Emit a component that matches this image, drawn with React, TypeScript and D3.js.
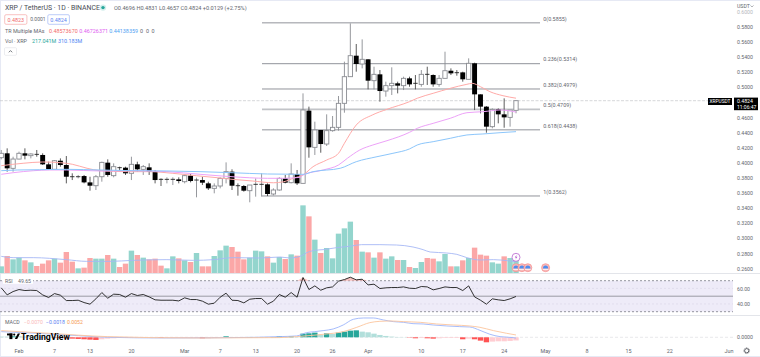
import React from 'react';
import * as d3 from 'd3';

const W = 760, H = 357;
const firstDay = -3;
const opens = [.4069,.4127,.3928,.4051,.4127,.4096,.4113,.4105,.3981,.3915,.4029,.3972,.3817,.3813,.3826,.3742,.3698,.3817,.4003,.3831,.3937,.3937,.3862,.3981,.3915,.3941,.3884,.3782,.3778,.3778,.3782,.3751,.3831,.3769,.3773,.3729,.3663,.3694,.3795,.3884,.3698,.3694,.3632,.3712,.3712,.3716,.3588,.3641,.3795,.3738,.3853,.3729,.4692,.4206,.4436,.4250,.4427,.4471,.4789,.5142,.5420,.5310,.5372,.5089,.5173,.4952,.5023,.5054,.5023,.5120,.5054,.5040,.5173,.5164,.5040,.5120,.5221,.5195,.5199,.5107,.5319,.4908,.4745,.4480,.4709,.4643,.4603,.4696];
const closes = [.4127,.3928,.4051,.4127,.4096,.4118,.4105,.3981,.3915,.4029,.3972,.3817,.3813,.3817,.3742,.3698,.3817,.4007,.3840,.3950,.3932,.3862,.3981,.3915,.3950,.3884,.3773,.3778,.3782,.3782,.3760,.3831,.3760,.3773,.3738,.3663,.3694,.3795,.3884,.3698,.3694,.3632,.3707,.3716,.3716,.3588,.3641,.3795,.3738,.3853,.3729,.4701,.4206,.4436,.4250,.4427,.4471,.4789,.5142,.5420,.5310,.5372,.5089,.5173,.4952,.5023,.5054,.5023,.5120,.5040,.5049,.5173,.5164,.5040,.5120,.5221,.5186,.5190,.5107,.5319,.4908,.4745,.4480,.4709,.4643,.4603,.4700,.4824];
const highs = [.4171,.4193,.4082,.4149,.4193,.4127,.4171,.4127,.4016,.4038,.4060,.4091,.3862,.3840,.3840,.3817,.3840,.4016,.4047,.3994,.3950,.3950,.4082,.4016,.3972,.3994,.3906,.3795,.3809,.3809,.3809,.3848,.3853,.3804,.3817,.3751,.3729,.3809,.4007,.3915,.3729,.3707,.3707,.3795,.3862,.3729,.3663,.3809,.3840,.3994,.3906,.4921,.4745,.4546,.4436,.4643,.4621,.4886,.5341,.5848,.5575,.5636,.5372,.5274,.5230,.5076,.5266,.5076,.5142,.5142,.5164,.5230,.5274,.5173,.5164,.5473,.5252,.5230,.5208,.5385,.5327,.4908,.4753,.4722,.4722,.4855,.4700,.4831];
const lows = [.4047,.3884,.3884,.4047,.4047,.4060,.4082,.3972,.3906,.3906,.3950,.3729,.3773,.3795,.3729,.3632,.3641,.3751,.3817,.3809,.3884,.3840,.3773,.3884,.3840,.3840,.3729,.3694,.3729,.3707,.3729,.3729,.3742,.3544,.3707,.3641,.3597,.3663,.3729,.3641,.3566,.3619,.3478,.3553,.3553,.3561,.3570,.3632,.3729,.3729,.3707,.3729,.4069,.4105,.4135,.4224,.4413,.4427,.4665,.5142,.5208,.5252,.4974,.4974,.4811,.4877,.4899,.4921,.4965,.5009,.4974,.5009,.5032,.5009,.5009,.5120,.5164,.5155,.5076,.5107,.4700,.4656,.4400,.4458,.4524,.4466,.4480,.4657];
const volumes = [133,340,273,307,253,213,140,187,253,287,207,420,227,93,107,300,287,287,360,287,120,187,447,360,307,273,287,147,93,333,293,253,220,400,133,133,340,453,547,520,427,273,307,447,433,333,207,320,280,373,347,1353,1133,667,400,500,293,787,893,1027,660,427,413,307,413,287,333,260,260,120,100,220,300,287,233,380,133,133,253,300,507,367,347,213,187,333,300,310];
const volumeDir = ['u','d','u','u','d','u','d','d','d','u','d','d','d','u','d','d','u','u','d','u','d','d','u','d','u','d','d','d','u','u','d','u','d','u','d','d','u','u','u','d','d','d','u','u','u','d','u','u','d','u','d','u','d','u','d','u','u','u','u','u','d','u','d','u','d','u','u','d','u','d','u','u','d','d','u','u','d','u','d','u','d','d','d','u','u','d','u','u'];

const maRedDays = [-3,.7,4,7,9,11.5,13.7,18.3,22,26,30,33.5,36,39.5,43,44.7,46.5,48,49.7,52,54,55,57,59.7,62.2,66,67.3,70,72.9,75.7,76.6,78,79.6,81.8,84];
const maRedValues = [.3963,.3995,.4012,.4003,.3982,.3929,.3897,.3884,.3884,.3862,.3830,.3804,.3783,.3760,.3737,.3750,.3800,.3840,.3950,.4038,.4127,.4260,.4502,.4634,.4710,.4811,.4856,.4922,.4988,.5041,.5054,.5009,.4943,.4890,.4857];
const maMagentaDays = [-3,-1,2.5,5.2,8,13.7,19.3,25,30.6,36,42,44.6,47.5,48,51.4,54,55.5,57.6,59.8,62.2,66,67.3,70,72.9,75.7,78.4,81.3,84];
const maMagentaValues = [.3849,.3870,.3897,.3906,.3906,.3893,.3897,.3884,.3849,.3817,.3796,.3796,.3809,.3840,.3906,.3972,.4061,.4171,.4237,.4294,.4405,.4458,.4524,.4591,.4665,.4678,.4701,.4673];
const maBlueDays = [-3,-.3,3.5,8,13.7,19.3,25,30.6,36,42,47.5,48,49.7,54.3,57,60.5,63.2,66,67.3,70,72.9,75.7,78.4,81.3,84];
const maBlueValues = [.3897,.3906,.3910,.3915,.3906,.3897,.3893,.3884,.3870,.3853,.3849,.3849,.3884,.3929,.4016,.4082,.4127,.4185,.4237,.4281,.4326,.4370,.4383,.4400,.4414];

const volMaDays = [-3,-1,2.4,8,11.4,15.4,19.3,25,29.5,32.9,36.2,40.7,44.1,45.8,47.5,48.9,50,51.4,53.7,56.2,57.9,61,63.8,66.6,68.3,69.5,72.3,74,75.7,77.9,80.2,83,84];
const volMaValues = [333,307,307,267,233,233,253,267,253,267,307,300,320,300,333,420,453,467,507,540,567,567,560,520,467,420,400,373,307,260,267,240,225];

const rsiValues = [60.8,51.7,56.0,58.6,57.3,57.7,57.3,51.7,48.3,53.4,51.3,44.4,44.4,44.8,41.8,39.7,46.6,54.7,47.4,52.6,52.2,48.7,53.4,50.9,52.2,49.1,45.3,44.8,44.8,44.8,43.9,47.9,45.7,45.7,43.6,39.7,41.0,48.7,53.9,44.8,44.4,41.4,46.1,47.0,47.0,39.7,43.6,52.2,48.7,54.7,48.7,74.1,58.6,63.3,57.7,60.8,62.0,69.4,71.5,74.5,71.1,71.9,64.6,65.5,59.9,60.8,61.2,61.2,62.0,60.3,59.9,62.5,62.0,58.2,59.9,62.0,61.2,61.2,57.3,63.3,49.1,44.8,39.7,46.6,45.3,44.4,46.6,49.65];

const macdDays = [-3,3,10,15,25,40,44,46.9,48.6,50,51.4,53.1,54.8,56.5,58.2,59.9,61.6,63.3,65,66.6,68.3,70,72.3,74.5,76.2,77.9,79.6,81.3,83.5,84];
const macdValues = [.0126,.0089,.0037,0,-.0015,0,.0015,.0030,.0104,.0126,.0148,.0185,.0274,.0400,.0429,.0429,.0385,.0348,.0333,.0303,.0296,.0274,.0252,.0237,.0229,.0155,.0067,.0015,-.0007,-.0018];
const signalDays = [-3,5,15,30,44,46.9,49.7,51.4,53.1,54.8,57.1,59.3,61,62.7,65,67.8,70.6,73.4,76.2,77.9,80.2,82.4,84];
const signalValues = [.0148,.0089,.0015,-.0015,-.0007,.0015,.0044,.0067,.0089,.0126,.0222,.0326,.0355,.0363,.0348,.0333,.0296,.0274,.0252,.0222,.0148,.0089,.0052];
const histValues = [.0015,.0015,.0022,.0022,.0015,.0015,.0007,.0007,0,-.0007,-.0015,-.0022,-.0030,-.0037,-.0044,-.0052,-.0059,-.0044,-.0030,-.0022,-.0015,-.0015,-.0007,-.0007,-.0007,-.0007,-.0007,-.0015,-.0015,-.0015,-.0015,-.0015,-.0015,-.0015,-.0022,-.0022,-.0015,-.0007,.0022,.0007,.0007,.0004,.0007,.0007,.0007,.0004,.0007,.0022,.0015,.0022,.0007,.0081,.0089,.0104,.0059,.0089,.0074,.0104,.0126,.0148,.0155,.0126,.0111,.0081,.0052,.0030,.0015,.0007,.0004,-.0007,-.0022,-.0015,-.0022,-.0030,-.0022,-.0015,-.0015,-.0015,-.0044,-.0030,-.0044,-.0074,-.0111,-.0096,-.0089,-.0089,-.0081,-.0070];

const fibPrices = [.5855,.5314,.4979,.4709,.4438,.3562];
const fibLabels = ['0(0.5855)','0.236(0.5314)','0.382(0.4979)','0.5(0.4709)','0.618(0.4438)','1(0.3562)'];
const priceTicks = [.58,.56,.54,.52,.50,.46,.44,.42,.40,.38,.36,.34,.32,.30,.28,.26];
const timeTickDays = [0,6,12,19,28,34,40,47,53,59,68,75,82,89,96,103,110,120];
const timeTickLabels = ['Feb','7','13','20','Mar','7','13','20','26','Apr','10','17','24','May','8','15','22','Jun'];
const earningsDays = [84,85,86,89];
const lastPrice = .4824;

const FONT = 'Roboto, sans-serif';
const GREY = '#63666e';
const UP_VOL = '#93d5cd', DOWN_VOL = '#fba7a7';

export default function App() {
  const x = d3.scaleLinear().domain([0, 120]).range([19, 729]);
  const y = d3.scaleLinear().domain([.58, .26]).range([27, 268.6]);
  const vy = d3.scaleLinear().domain([0, 1000]).range([273, 223]);
  const ry = d3.scaleLinear().domain([30, 70]).range([311.7, 280.7]);
  const my = d3.scaleLinear().domain([0, .04]).range([337.3, 319.3]);
  const days = d3.range(opens.length).map(i => firstDay + i);

  const knotLine = (yy: (v: number) => number) =>
    d3.line<[number, number]>().x(p => x(p[0])).y(p => yy(p[1])).curve(d3.curveMonotoneX);
  const zipKnots = (a: number[], b: number[]) => a.map((v, i) => [v, b[i]] as [number, number]);
  const rsiPairs = zipKnots(days, rsiValues);
  const rsiPath = d3.line<[number, number]>().x(p => x(p[0])).y(p => ry(p[1]))(rsiPairs) || '';
  const rsiOver = d3.area<[number, number]>().x(p => x(p[0])).y0(ry(70)).y1(p => ry(Math.max(70, p[1])))(rsiPairs) || '';
  const bw = 4.3;
  const txt = (s: string, tx: number, ty: number, fill = GREY, size = 5.6, anchor = 'start') => (
    <text key={s + tx + ty} x={tx} y={ty} fill={fill} fontSize={size} textAnchor={anchor} dominantBaseline="central" fontFamily={FONT}>{s}</text>
  );

  return (
    <svg width={W} height={H} viewBox={`0 0 ${W} ${H}`} style={{ position: 'absolute', left: 0, top: 0, display: 'block', background: '#fff' }}>
      <rect x={0} y={0} width={W} height={1} fill="#e6e9f4" />
      <rect x={0} y={0} width={1} height={H} fill="#e6e9f4" />
      <rect x={0} y={356} width={W} height={1} fill="#e6e9f4" />
      <line x1={0} x2={W} y1={273.5} y2={273.5} stroke="#e3e5ea" />
      <line x1={0} x2={W} y1={315.5} y2={315.5} stroke="#e3e5ea" />

      {/* last price */}
      <line x1={0} x2={708} y1={y(lastPrice)} y2={y(lastPrice)} stroke="#c4c6ca" strokeWidth={.7} strokeDasharray="3 1.5" />

      {/* fib */}
      {fibPrices.map((p, i) => (
        <g key={p}>
          <line x1={262} x2={540} y1={y(p)} y2={y(p)} stroke={i === 3 ? '#c2c4c8' : '#85878e'} strokeWidth={i === 3 ? 1.6 : .9} />
          {txt(fibLabels[i], 543.3, y(p) - 4.2, GREY, 5.4)}
        </g>
      ))}

      {/* volume */}
      {volumes.map((v, i) => (
        <rect key={i} x={x(days[i]) - 2.7} width={5.4} y={vy(v)} height={vy(0) - vy(v)} fill={volumeDir[i] === 'u' ? UP_VOL : DOWN_VOL} />
      ))}
      <path d={knotLine(vy)(zipKnots(volMaDays, volMaValues)) || ''} fill="none" stroke="#a6b8f5" strokeWidth={.9} />

      {/* candles */}
      {days.map((d, i) => {
        const up = closes[i] >= opens[i];
        const top = y(Math.max(opens[i], closes[i]));
        const bot = y(Math.min(opens[i], closes[i]));
        const cx = x(d);
        return (
          <g key={d}>
            <line x1={cx} x2={cx} y1={y(highs[i])} y2={y(lows[i])} stroke={up ? '#8a8c92' : '#4a4a4a'} strokeWidth={.9} />
            {bot - top < 1.2
              ? <line x1={cx - 2.2} x2={cx + 2.2} y1={top} y2={top} stroke="#222" strokeWidth={.9} />
              : up
                ? <rect x={cx - bw / 2} width={bw} y={top} height={bot - top} fill="#fff" stroke="#8a8c92" strokeWidth={.9} />
                : <rect x={cx - bw / 2 - .3} width={bw + .6} y={top} height={bot - top} fill="#000" />}
          </g>
        );
      })}

      {/* moving averages */}
      <path d={knotLine(y)(zipKnots(maRedDays, maRedValues)) || ''} fill="none" stroke="#ffaaa8" strokeWidth={1} />
      <path d={knotLine(y)(zipKnots(maMagentaDays, maMagentaValues)) || ''} fill="none" stroke="#eda2f8" strokeWidth={1} />
      <path d={knotLine(y)(zipKnots(maBlueDays, maBlueValues)) || ''} fill="none" stroke="#8cc6fb" strokeWidth={1} />

      {/* events */}
      <circle cx={x(84)} cy={257.3} r={4} fill="#fff" stroke="#b765cf" strokeWidth={.8} />
      <path d={`M${x(84) + .8} 254.8 L${x(84) - 1.2} 257.6 H${x(84) + .3} L${x(84) - .7} 259.8 L${x(84) + 1.4} 256.8 H${x(84) - .1} Z`} fill="#a53fc4" />
      {earningsDays.map(d => (
        <g key={d}>
          <circle cx={x(d)} cy={267.7} r={4} fill="#f8b9b9" stroke="#f58f8f" strokeWidth={.7} />
          <rect x={x(d) - 2.8} y={268.8} width={5.6} height={.9} fill="#fff" />
          <path d={`M${x(d) - 2.6} 268.5 A2.6 3 0 0 1 ${x(d) + 2.6} 268.5 Z`} fill="#4c8df0" />
        </g>
      ))}

      {/* rsi */}
      <rect x={0} width={733} y={ry(70)} height={ry(30) - ry(70)} fill="#eeebf8" />
      <line x1={0} x2={733} y1={ry(70)} y2={ry(70)} stroke="#787b86" strokeWidth={.8} strokeDasharray="2 2" />
      <line x1={0} x2={733} y1={ry(30)} y2={ry(30)} stroke="#787b86" strokeWidth={.8} strokeDasharray="2 2" />
      <line x1={0} x2={733} y1={ry(50)} y2={ry(50)} stroke="#85858f" strokeWidth={.8} />
      <line x1={0} x2={733} y1={ry(60)} y2={ry(60)} stroke="#dcd9e8" strokeWidth={.7} strokeDasharray="2 2" />
      <line x1={0} x2={733} y1={ry(40)} y2={ry(40)} stroke="#dcd9e8" strokeWidth={.7} strokeDasharray="2 2" />
      <path d={rsiOver} fill="#f7a9a7" opacity={.7} />
      <path d={rsiPath} fill="none" stroke="#1c1c1c" strokeWidth={.9} />

      {/* macd */}
      <line x1={0} x2={733} y1={my(0)} y2={my(0)} stroke="#dedfe3" strokeWidth={.7} strokeDasharray="3 2" />
      {histValues.map((v, i) => {
        const prev = i ? histValues[i - 1] : v;
        const fill = v >= 0 ? (v > prev ? '#26a69a' : '#b2dfdb') : (v < prev ? '#ff5252' : '#ffcdd2');
        const a = my(Math.max(v, 0)), b = my(Math.min(v, 0));
        return <rect key={i} x={x(days[i]) - 2.7} width={5.4} y={a} height={b - a} fill={fill} />;
      })}
      <path d={knotLine(my)(zipKnots(macdDays, macdValues)) || ''} fill="none" stroke="#9cb4fb" strokeWidth={.9} />
      <path d={knotLine(my)(zipKnots(signalDays, signalValues)) || ''} fill="none" stroke="#fcc59d" strokeWidth={.9} />

      {/* price axis */}
      {txt('0.6000', 737, 12, '#b5b7bc', 5.2)}
      {priceTicks.map(p => txt(p.toFixed(4), 737, y(p), GREY, 5.2))}
      {txt('60.00', 737, 288.5, GREY, 5.2)}
      {txt('40.00', 737, 303.5, GREY, 5.2)}
      {txt('0.0000', 737, 336.8, GREY, 5.2)}
      {txt('USDT', 737, 6, GREY, 5.2)}
      <path d="M750.5 5.4 L752 7 L753.5 5.4" fill="none" stroke={GREY} strokeWidth={.5} />

      {/* last price labels */}
      <rect x={708} y={98} width={24} height={7} fill="#000" />
      {txt('XRPUSDT', 720, 101.6, '#fff', 4.8, 'middle')}
      <rect x={734} y={97.6} width={24} height={12.6} fill="#000" />
      {txt('0.4824', 737, 101, '#fff', 5.2)}
      {txt('11:06:47', 737, 107, '#fff', 5)}

      {/* time axis */}
      {timeTickDays.map((d, i) => txt(timeTickLabels[i], x(d), 350.7, GREY, 5.4, 'middle'))}
      <circle cx={746.7} cy={350.7} r={2.1} fill="none" stroke="#3a3d45" strokeWidth={.8} />
      <circle cx={746.7} cy={350.7} r={2.9} fill="none" stroke="#3a3d45" strokeWidth={.6} strokeDasharray=".9 .9" />

      {/* legend */}
      {txt('XRP / TetherUS · 1D · BINANCE', 5, 7.6, '#4a4d55', 6.9)}
      <circle cx={103} cy={7.6} r={3.2} fill="#d5efec" />
      <circle cx={103} cy={7.6} r={1.7} fill="#26a69a" />
      {txt('O0.4696  H0.4831  L0.4657  C0.4824  +0.0129 (+2.75%)', 114, 7.9, GREY, 5.6)}
      <rect x={4.7} y={14.7} width={22.2} height={9.6} rx={1.4} fill="#fff" stroke="#f7a9a7" strokeWidth={.7} />
      {txt('0.4823', 15.8, 19.7, '#f0686a', 5.4, 'middle')}
      {txt('0.0001', 30.2, 19.4, GREY, 5)}
      <rect x={47.8} y={14.7} width={21.6} height={9.6} rx={1.4} fill="#fff" stroke="#a2b8f6" strokeWidth={.7} />
      {txt('0.4824', 58.6, 19.7, '#5b83f2', 5.4, 'middle')}
      {txt('TR Multiple MAs', 5, 30.8, GREY, 5.4)}
      {txt('0.48573670', 49, 30.8, '#f46a6a', 5.4)}
      {txt('0.46726371', 79.3, 30.8, '#de5cf0', 5.4)}
      {txt('0.44138359', 109.3, 30.8, '#4ea1f3', 5.4)}
      {txt('0', 140, 30.8, GREY, 5.4)}
      {txt('0', 146, 30.8, GREY, 5.4)}
      {txt('0', 151.5, 30.8, GREY, 5.4)}
      {txt('Vol · XRP', 5, 41, GREY, 5.4)}
      {txt('217.041M', 32, 41, '#26a69a', 5.4)}
      {txt('310.183M', 58, 41, '#4e83f2', 5.4)}
      <rect x={4.5} y={47.7} width={12} height={7.6} rx={1} fill="#fff" stroke="#dfe1e6" strokeWidth={.6} />
      <path d="M8.8 52.3 L10.5 50.6 L12.2 52.3" fill="none" stroke="#3a3d45" strokeWidth={.7} />
      <rect x={3} y={277.8} width={30} height={6} fill="#fff" />
      {txt('RSI', 5, 280.8, GREY, 5.2)}
      {txt('49.65', 18, 280.8, GREY, 5.2)}
      {txt('MACD', 5, 322.4, GREY, 5.2)}
      {txt('−0.0070', 24, 322.4, '#f9b9b9', 5.2)}
      {txt('−0.0018', 46, 322.4, '#5c82f2', 5.2)}
      {txt('0.0052', 67, 322.4, '#f59a52', 5.2)}

      {/* logo */}
      <rect x={7} y={333.5} width={5.4} height={1.9} fill="#000" />
      <rect x={9.4} y={333.5} width={3} height={5.6} fill="#000" />
      <circle cx={14.2} cy={334.6} r={1.1} fill="#000" />
      <path d="M17.8 333.5 H20 L17.2 339.1 H14.8 Z" fill="#000" />
      <text x={21} y={336.5} fill="#000" fontSize={8.7} fontWeight={700} dominantBaseline="central" fontFamily={FONT}>TradingView</text>
    </svg>
  );
}
